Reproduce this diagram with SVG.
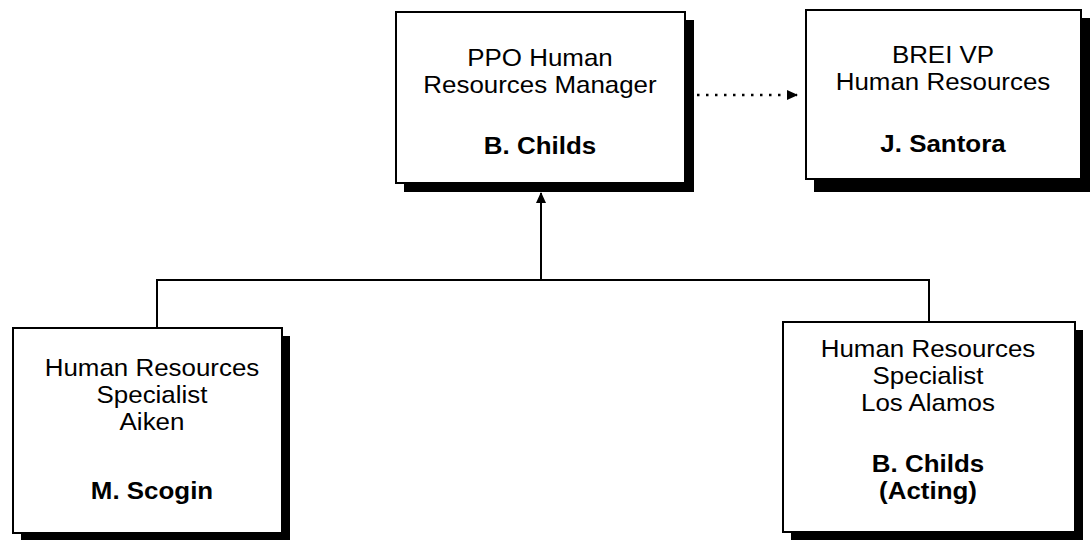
<svg xmlns="http://www.w3.org/2000/svg" width="1090" height="545" viewBox="0 0 1090 545">
  <style>
    .box { fill: #ffffff; stroke: #000000; stroke-width: 2; }
    .shadow { fill: #000000; }
    .t { font-family: "Liberation Sans", Arial, sans-serif; font-size: 24px; fill: #000000; text-anchor: middle; }
    .b { font-weight: bold; }
    .line { fill: none; stroke: #000000; stroke-width: 2; }
    .dot { fill: none; stroke: #000000; stroke-width: 2.5; stroke-dasharray: 2.5 6.5; }
  </style>
  <defs>
    <marker id="arrow" markerWidth="11" markerHeight="10" refX="10" refY="5" orient="auto" markerUnits="userSpaceOnUse">
      <path d="M0,0 L11,5 L0,10 Z" fill="#000000"/>
    </marker>
  </defs>
  <rect width="1090" height="545" fill="#ffffff"/>

  <!-- reporting lines -->
  <g id="connectors">
    <path class="line" d="M157,328 V280 H929 V322"/>
    <path class="line" d="M541,280 V193" marker-end="url(#arrow)"/>
    <path class="dot" d="M697,95 H797" marker-end="url(#arrow)"/>
  </g>

  <!-- text blocks are widened slightly with scale(1.08 1) about each box centre -->
  <g id="ppo-manager">
    <rect class="shadow" x="404" y="20" width="290" height="172"/>
    <rect class="box" x="396" y="12" width="289" height="171"/>
    <g transform="translate(540 0) scale(1.08 1)">
      <text class="t" x="0" y="66">PPO Human</text>
      <text class="t" x="0" y="93">Resources Manager</text>
      <text class="t b" x="0" y="154">B. Childs</text>
    </g>
  </g>

  <g id="brei-vp">
    <rect class="shadow" x="814" y="18" width="276" height="174"/>
    <rect class="box" x="806" y="10" width="275" height="169"/>
    <g transform="translate(943 0) scale(1.08 1)">
      <text class="t" x="0" y="63">BREI VP</text>
      <text class="t" x="0" y="90">Human Resources</text>
      <text class="t b" x="0" y="152">J. Santora</text>
    </g>
  </g>

  <g id="specialist-aiken">
    <rect class="shadow" x="21" y="336" width="269" height="204"/>
    <rect class="box" x="13" y="328" width="269" height="205"/>
    <g transform="translate(152 0) scale(1.08 1)">
      <text class="t" x="0" y="376">Human Resources</text>
      <text class="t" x="0" y="403">Specialist</text>
      <text class="t" x="0" y="430">Aiken</text>
      <text class="t b" x="0" y="499">M. Scogin</text>
    </g>
  </g>

  <g id="specialist-los-alamos">
    <rect class="shadow" x="791" y="330" width="292" height="210"/>
    <rect class="box" x="783" y="322" width="292" height="210"/>
    <g transform="translate(928 0) scale(1.08 1)">
      <text class="t" x="0" y="357">Human Resources</text>
      <text class="t" x="0" y="384">Specialist</text>
      <text class="t" x="0" y="411">Los Alamos</text>
      <text class="t b" x="0" y="472">B. Childs</text>
      <text class="t b" x="0" y="499">(Acting)</text>
    </g>
  </g>
</svg>
